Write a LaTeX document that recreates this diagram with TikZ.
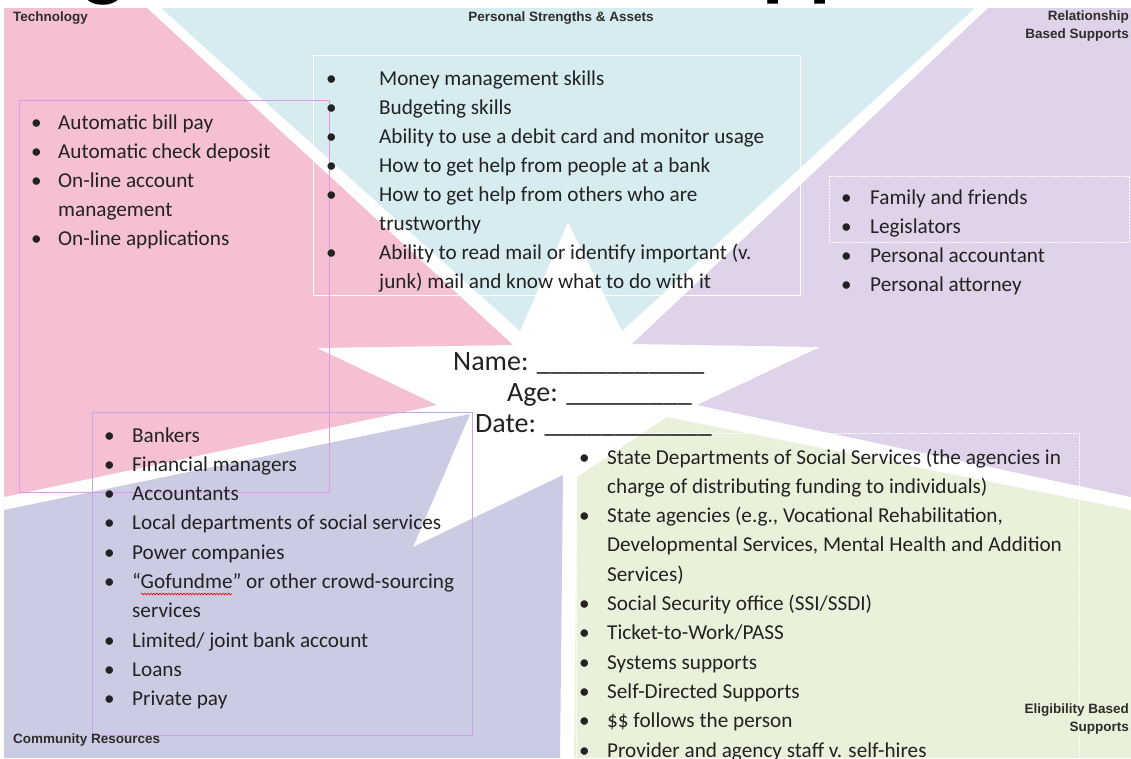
\documentclass[tikz,border=0pt]{standalone}
\usepackage{fontspec}
\setmainfont{Carlito}
\newfontfamily\labfont{Liberation Sans}
\usetikzlibrary{decorations.pathmorphing}
\definecolor{pinkc}{RGB}{245,192,210}
\definecolor{bluec}{RGB}{214,236,240}
\definecolor{purpc}{RGB}{222,211,232}
\definecolor{lavc}{RGB}{203,203,227}
\definecolor{greenc}{RGB}{234,241,218}
\definecolor{txtc}{RGB}{34,34,34}
\definecolor{labc}{RGB}{45,45,45}
\definecolor{techframe}{RGB}{225,150,230}
\definecolor{commframe}{RGB}{195,165,240}
\newcommand\blist[2]{\begin{tabular}[t]{@{}p{#1}@{}l@{}}#2\end{tabular}}
\tikzset{
  bodytext/.style={inner sep=0pt, anchor=base west, text=txtc, font=\fontsize{21.2}{29}\selectfont},
  bodytextb/.style={inner sep=0pt, anchor=base west, text=txtc, font=\fontsize{21.2}{29.3}\selectfont},
  labeltext/.style={inner sep=0pt, text=labc, font=\labfont\bfseries\fontsize{13.5}{17.5}\selectfont},
  formline/.style={inner sep=0pt, anchor=base west, text=txtc, font=\fontsize{28}{32}\selectfont},
  techbox/.style={draw=techframe, line width=1pt},
  commbox/.style={draw=commframe, line width=1pt},
  whitebox/.style={draw=white, line width=1pt},
  dotbox/.style={draw=white, line width=1pt, dash pattern=on 2pt off 1pt},
  squiggle/.style={draw=red, line width=0.6pt, decorate, decoration={snake, amplitude=0.9pt, segment length=3pt}}
}
\begin{document}
\begin{tikzpicture}[x=1pt,y=-1pt]
\useasboundingbox (0,0) rectangle (1131,758);
\clip (0,0) rectangle (1131,758);
% title (cut off at the top)
\node[inner sep=0pt, anchor=base west, text=black, font=\bfseries\fontsize{87}{96}\selectfont] (title) at (-59,-10) {Integrated Financial Supports};
% coloured regions
\fill[pinkc]   (4,8) -- (147,8) -- (513,345) -- (317,348) -- (437,405) -- (4,497) -- cycle;
\fill[bluec]   (161,8) -- (975,8) -- (622,331) -- (568,222) -- (520,331) -- cycle;
\fill[purpc]   (988,8) -- (1131,8) -- (1131,497) -- (697,405) -- (820,347) -- (632,344) -- cycle;
\fill[lavc]    (4,510) -- (470,414) -- (413,547) -- (563,475) -- (560,758) -- (4,758) -- cycle;
\fill[greenc]  (667,417) -- (1131,510) -- (1131,758) -- (574,758) -- (577,477) -- cycle;
% frames
\draw[whitebox] (313,55) rectangle (800,295);
\draw[dotbox]   (829,176) rectangle (1129,242);
\draw[dotbox]   (576,433) rectangle (1079,775);
\draw[techbox]  (19,100) rectangle (329,492);
\draw[commbox]  (92,412) rectangle (472,735);
% labels
\node[labeltext, anchor=west] (lt) at (13,18) {Technology};
\node[labeltext] (lp) at (561,18) {Personal Strengths \& Assets};
\node[labeltext, anchor=north east, align=right] (lr) at (1129,11) {Relationship\\Based Supports};
\node[labeltext, anchor=west] (lc) at (13,740) {Community Resources};
\node[labeltext, anchor=north east, align=right] (le) at (1129,704) {Eligibility Based\\Supports};
% lists
\node[bodytext] (tech) at (31,129) {\blist{27pt}{%
• & Automatic bill pay\\
• & Automatic check deposit\\
• & On-line account\\
  & management\\
• & On-line applications}};
\node[bodytext] (pers) at (326,85) {\blist{53pt}{%
• & Money management skills\\
• & Budgeting skills\\
• & Ability to use a debit card and monitor usage\\
• & How to get help from people at a bank\\
• & How to get help from others who are\\
  & trustworthy\\
• & Ability to read mail or identify important (v.\\
  & junk) mail and know what to do with it}};
\node[bodytext] (rel) at (841,204) {\blist{29pt}{%
• & Family and friends\\
• & Legislators\\
• & Personal accountant\\
• & Personal attorney}};
\node[bodytextb] (comm) at (104,442) {\blist{28pt}{%
• & Bankers\\
• & Financial managers\\
• & Accountants\\
• & Local departments of social services\\
• & Power companies\\
• & “Gofundme” or other crowd-sourcing\\
  & services\\
• & Limited/ joint bank account\\
• & Loans\\
• & Private pay}};
\node[bodytextb] (elig) at (579,464) {\blist{28pt}{%
• & State Departments of Social Services (the agencies in\\
  & charge of distributing funding to individuals)\\
• & State agencies (e.g., Vocational Rehabilitation,\\
  & Developmental Services, Mental Health and Addition\\
  & Services)\\
• & Social Security office (SSI/SSDI)\\
• & Ticket-to-Work/PASS\\
• & Systems supports\\
• & Self-Directed Supports\\
• & \$\$ follows the person\\
• & Provider and agency staff v. self-hires}};
\draw[squiggle] (141,594) -- (232,594);
% form in the star
\node[formline] (name) at (453,370) {Name: \_\_\_\_\_\_\_\_\_\_\_\_};
\node[formline] (age)  at (507,401) {Age: \_\_\_\_\_\_\_\_\_};
\node[formline] (date) at (475,432) {Date: \_\_\_\_\_\_\_\_\_\_\_\_};
\end{tikzpicture}
\end{document}
